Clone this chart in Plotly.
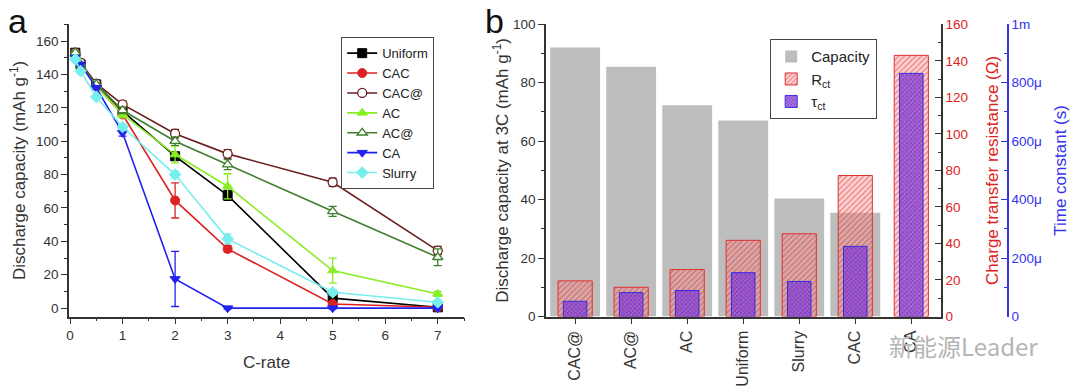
import plotly.graph_objects as go

# ---------------- data: panel a ----------------
c_rate = [0.1, 0.2, 0.5, 1, 2, 3, 5, 7]
series_names = ["Uniform", "CAC", "CAC@", "AC", "AC@", "CA", "Slurry"]
uniform = [153, 146, 134, 118, 91, 67.5, 6, 0.5]
uniform_err = [1, 1, 1, 1.5, 2, 3, 2, 0.5]
cac = [152, 146, 133, 116, 64.5, 35.5, 2.5, 0.5]
cac_err = [1, 1, 1, 1.5, 10.5, 2, 1, 0.5]
cac_at = [153, 147, 134.5, 122, 104.5, 92.4, 75.4, 34.5]
cac_at_err = [2, 2, 2, 2, 2.5, 2.5, 2.5, 2.5]
ac = [152, 146, 133, 116, 92, 73, 22.5, 8.5]
ac_err = [1, 1, 1, 2, 5, 7.5, 7.5, 1.5]
ac_at = [153, 146, 134, 118.5, 100, 86, 58, 30.5]
ac_at_err = [1, 1, 1, 2, 2.5, 3, 3, 5]
ca = [150, 146, 132, 105, 17.5, 0, 0, 0]
ca_err = [1, 1, 1, 2, 16.5, 0.5, 0.5, 0.5]
slurry = [149, 142, 126.5, 108.5, 80, 41.5, 9.5, 3.5]
slurry_err = [1, 1, 1, 1.5, 2, 3, 1.5, 1]

# ---------------- data: panel b ----------------
samples = ["CAC@", "AC@", "AC", "Uniform", "Slurry", "CAC", "CA"]
capacity_3c = [92.1, 85.5, 72.3, 67.1, 40.4, 35.5, 0]
r_ct = [19.5, 16, 25.7, 41.7, 45.3, 77.2, 143]
tau_ct = [52e-6, 82e-6, 89e-6, 150e-6, 120e-6, 240e-6, 832e-6]
tau_tickvals = [0, 200e-6, 400e-6, 600e-6, 800e-6, 1e-3]
tau_ticktext = ["0", "200\u03bc", "400\u03bc", "600\u03bc", "800\u03bc", "1m"]

FONT = "Arial, Liberation Sans, sans-serif"
AX = "#333333"

fig = go.Figure()

styles = [
    (uniform, uniform_err, "#000000", dict(symbol="square", color="#000000", line=dict(color="#000000", width=1))),
    (cac, cac_err, "#dd2222", dict(symbol="circle", color="#dd2222", line=dict(color="#dd2222", width=1))),
    (cac_at, cac_at_err, "#6a1f1f", dict(symbol="circle", color="white", line=dict(color="#6a1f1f", width=1.3))),
    (ac, ac_err, "#88ee22", dict(symbol="triangle-up", color="#88ee22", line=dict(color="#88ee22", width=1))),
    (ac_at, ac_at_err, "#3f7f2f", dict(symbol="triangle-up", color="white", line=dict(color="#3f7f2f", width=1.3))),
    (ca, ca_err, "#2222ee", dict(symbol="triangle-down", color="#2222ee", line=dict(color="#2222ee", width=1))),
    (slurry, slurry_err, "#77eeee", dict(symbol="diamond", color="#77eeee", line=dict(color="#77eeee", width=1))),
]
for name, (vals, errs, col, mk) in zip(series_names, styles):
    mk = dict(mk, size=9)
    fig.add_trace(go.Scatter(
        x=c_rate, y=vals, name=name, mode="lines+markers",
        line=dict(color=col, width=1.6), marker=mk,
        error_y=dict(type="data", array=errs, color=col, thickness=1.3, width=4),
        xaxis="x", yaxis="y", legend="legend",
    ))

# panel b bars
fig.add_trace(go.Bar(
    x=samples, y=capacity_3c, name="Capacity", width=0.89,
    marker=dict(color="#bdbdbd", line=dict(width=0)),
    xaxis="x2", yaxis="y2", legend="legend2",
))
fig.add_trace(go.Bar(
    x=samples, y=r_ct, name="R<sub>ct</sub>", width=0.61,
    marker=dict(color="rgba(240,120,120,0.35)", line=dict(color="#e03030", width=1),
                pattern=dict(shape="/", fgcolor="#e03030", bgcolor="rgba(245,150,150,0.4)",
                             size=4, solidity=0.35)),
    xaxis="x2", yaxis="y3", legend="legend2",
))
fig.add_trace(go.Bar(
    x=samples, y=tau_ct, name="\u03c4<sub>ct</sub>", width=0.42,
    marker=dict(color="rgba(110,60,220,0.7)", line=dict(color="#3a2ae0", width=1),
                pattern=dict(shape="x", fgcolor="#3322ee", bgcolor="rgba(150,70,200,0.75)",
                             size=3, solidity=0.45)),
    xaxis="x2", yaxis="y4", legend="legend2",
))

ydom = [1 - 316.5 / 392, 1 - 24.3 / 392]
common = dict(showline=True, linecolor=AX, linewidth=1.5, showgrid=False, zeroline=False,
              automargin=False,
              tickcolor=AX, tickfont=dict(family=FONT, size=13.5, color="#333"))

fig.update_layout(
    width=1080, height=392, autosize=False,
    margin=dict(l=0, r=0, t=0, b=0, autoexpand=False),
    paper_bgcolor="white", plot_bgcolor="white",
    font=dict(family=FONT, color="#333"),
    barmode="overlay",
    xaxis=dict(common, domain=[69 / 1080, 464 / 1080], anchor="y", range=[-0.02, 7.5],
               dtick=1, tick0=0, ticks="outside", ticklen=6,
               minor=dict(ticks="outside", dtick=0.5, tick0=0, ticklen=3, tickcolor=AX),
               title=dict(text="C-rate", font=dict(size=17), standoff=14)),
    yaxis=dict(common, domain=ydom, anchor="x", range=[-5, 170], dtick=20, tick0=0,
               ticks="outside", ticklen=6,
               minor=dict(ticks="outside", dtick=10, tick0=0, ticklen=3, tickcolor=AX),
               title=dict(text="Discharge capacity (mAh g<sup>-1</sup>)", font=dict(size=17), standoff=6)),
    xaxis3=dict(common, overlaying="x", side="top", anchor="y", range=[-0.02, 7.5],
                dtick=1, tick0=0, ticks="inside", ticklen=6, showticklabels=False,
                minor=dict(ticks="inside", dtick=0.5, tick0=0, ticklen=3, tickcolor=AX)),
    yaxis5=dict(common, overlaying="y", side="right", anchor="x", range=[-5, 170],
                dtick=20, tick0=0, ticks="inside", ticklen=6, showticklabels=False,
                minor=dict(ticks="inside", dtick=10, tick0=0, ticklen=3, tickcolor=AX)),
    xaxis2=dict(common, domain=[546 / 1080, 941 / 1080], anchor="y2", type="category",
                range=[-0.52, 6.53], ticks="outside", ticklen=6, tickangle=-90,
                tickfont=dict(family=FONT, size=16, color="#333")),
    xaxis4=dict(common, overlaying="x2", side="top", anchor="y2", range=[-0.52, 6.53],
                tickvals=[0, 1, 2, 3, 4, 5, 6], ticks="inside", ticklen=6, showticklabels=False),
    yaxis2=dict(common, domain=ydom, anchor="x2", range=[0, 100], dtick=20, tick0=0,
                ticks="outside", ticklen=6,
                minor=dict(ticks="outside", dtick=10, tick0=0, ticklen=3, tickcolor=AX),
                title=dict(text="Discharge capacity at 3C (mAh g<sup>-1</sup>)", font=dict(size=17), standoff=0)),
    yaxis3=dict(common, overlaying="y2", anchor="x2", side="right", range=[0, 160],
                dtick=20, tick0=0, ticks="inside", ticklen=6,
                minor=dict(ticks="inside", dtick=10, tick0=0, ticklen=3, tickcolor=AX),
                tickfont=dict(family=FONT, size=13.5, color="#dd2222"),
                title=dict(text="Charge transfer resistance (\u03a9)", font=dict(size=17, color="#dd2222"), standoff=19)),
    yaxis4=dict(overlaying="y2", anchor="free", side="right", position=1008 / 1080,
                range=[0, 1e-3], tickvals=tau_tickvals, ticktext=tau_ticktext, automargin=False,
                showline=True, linecolor="#3333ee", linewidth=1.5, showgrid=False, zeroline=False,
                ticks="inside", ticklen=6, tickcolor="#3333ee",
                minor=dict(ticks="inside", dtick=100e-6, tick0=0, ticklen=3, tickcolor="#3333ee"),
                tickfont=dict(family=FONT, size=13.5, color="#3333ee"),
                title=dict(text="Time constant (s)", font=dict(size=17, color="#3333ee"), standoff=12)),
    legend=dict(x=341 / 1080, y=1 - 37 / 392, xanchor="left", yanchor="top",
                bgcolor="white", bordercolor="#444", borderwidth=1.2,
                font=dict(family=FONT, size=13, color="#222"), tracegroupgap=0),
    legend2=dict(x=770 / 1080, y=1 - 39 / 392, xanchor="left", yanchor="top",
                 bgcolor="white", bordercolor="#444", borderwidth=1.2,
                 font=dict(family=FONT, size=15, color="#222"), tracegroupgap=0),
    annotations=[
        dict(text="a", x=17 / 1080, y=1 - 21 / 392, xref="paper", yref="paper",
             xanchor="center", yanchor="middle",
             showarrow=False, font=dict(family=FONT, size=34, color="#111")),
        dict(text="b", x=494 / 1080, y=1 - 21 / 392, xref="paper", yref="paper",
             xanchor="center", yanchor="middle",
             showarrow=False, font=dict(family=FONT, size=34, color="#111")),
        dict(text="新能源Leader", x=963 / 1080, y=1 - 345 / 392, xref="paper", yref="paper",
             xanchor="center", yanchor="middle", showarrow=False,
             font=dict(family="Noto Sans CJK SC", size=24, color="#b5b5b5")),
    ],
)

fig.write_html("out.html", config={"displayModeBar": False},
               post_script="document.body.style.margin='0px';")
